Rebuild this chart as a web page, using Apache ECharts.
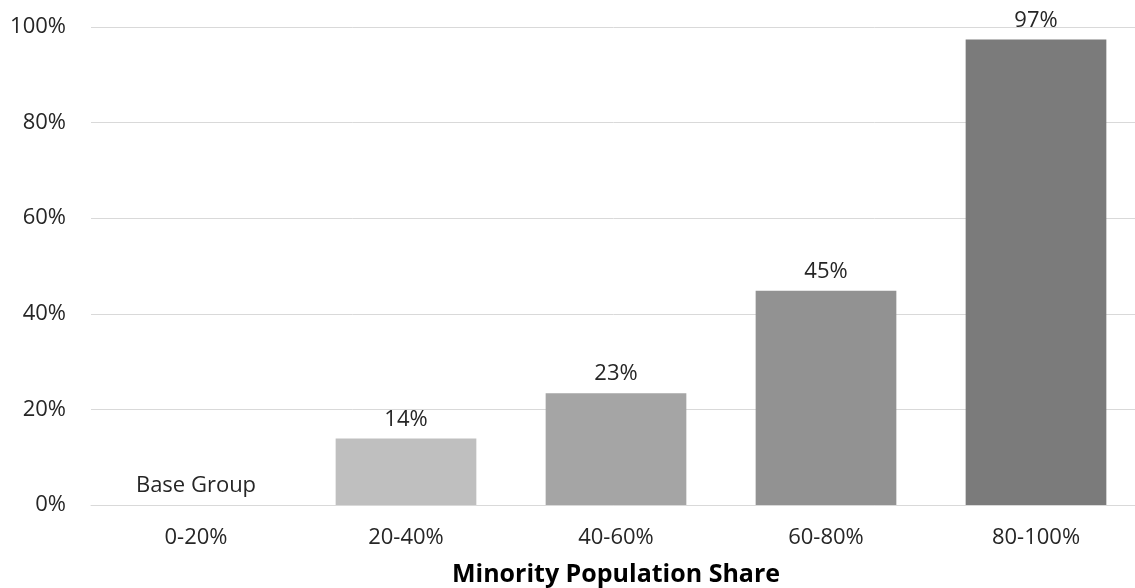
<!DOCTYPE html>
<html>
<head>
<meta charset="utf-8">
<script src="https://cdn.jsdelivr.net/npm/echarts@6/dist/echarts.min.js"></script>
<style>
  html, body { margin: 0; padding: 0; background: #fff; }
  #chart { width: 1135px; height: 588px; }
</style>
</head>
<body>
<div id="chart"></div>
<script>
// Minority population share buckets and the relative value for each
const categories = ['0-20%', '20-40%', '40-60%', '60-80%', '80-100%'];
const values = [0, 0.139, 0.234, 0.448, 0.974];
const barColors = ['#bfbfbf', '#bfbfbf', '#a5a5a5', '#929292', '#7b7b7b'];
const yTicks = [0, 0.2, 0.4, 0.6, 0.8, 1.0];
const baseLabel = 'Base Group';
const axisTitle = 'Minority Population Share';

const FONT = '"Open Sans", "Noto Sans", sans-serif';
const TEXT = '#262626';

const chart = echarts.init(document.getElementById('chart'), null, { renderer: 'canvas' });

chart.setOption({
  animation: false,
  textStyle: { fontFamily: FONT },
  // plot area runs slightly past the right edge of the canvas
  grid: { left: 91, width: 1050, top: 27, height: 478, outerBoundsMode: 'none', containLabel: false },
  xAxis: {
    type: 'category',
    data: categories,
    axisLine: { show: true, lineStyle: { color: '#d9d9d9', width: 1 } },
    axisTick: { show: false },
    axisLabel: { color: TEXT, fontSize: 22, fontFamily: FONT, margin: 22 },
    name: axisTitle,
    nameLocation: 'middle',
    nameGap: 57,
    nameTextStyle: { color: '#000', fontSize: 25, fontWeight: 'bold', fontFamily: FONT }
  },
  yAxis: {
    type: 'value',
    min: yTicks[0],
    max: yTicks[yTicks.length - 1],
    interval: yTicks[1] - yTicks[0],
    axisLine: { show: false },
    axisTick: { show: false },
    splitLine: { show: true, lineStyle: { color: '#d9d9d9', width: 1 } },
    axisLabel: {
      color: TEXT, fontSize: 22, fontFamily: FONT, margin: 25,
      formatter: v => Math.round(v * 100) + '%'
    }
  },
  series: [{
    type: 'bar',
    barCategoryGap: '33%',
    data: values.map((v, i) => ({ value: v, itemStyle: { color: barColors[i] } })),
    label: {
      show: true,
      position: 'top',
      distance: 8,
      color: TEXT,
      fontSize: 22,
      fontFamily: FONT,
      formatter: p => p.value === 0 ? baseLabel : Math.round(p.value * 100) + '%'
    }
  }]
});
</script>
</body>
</html>
